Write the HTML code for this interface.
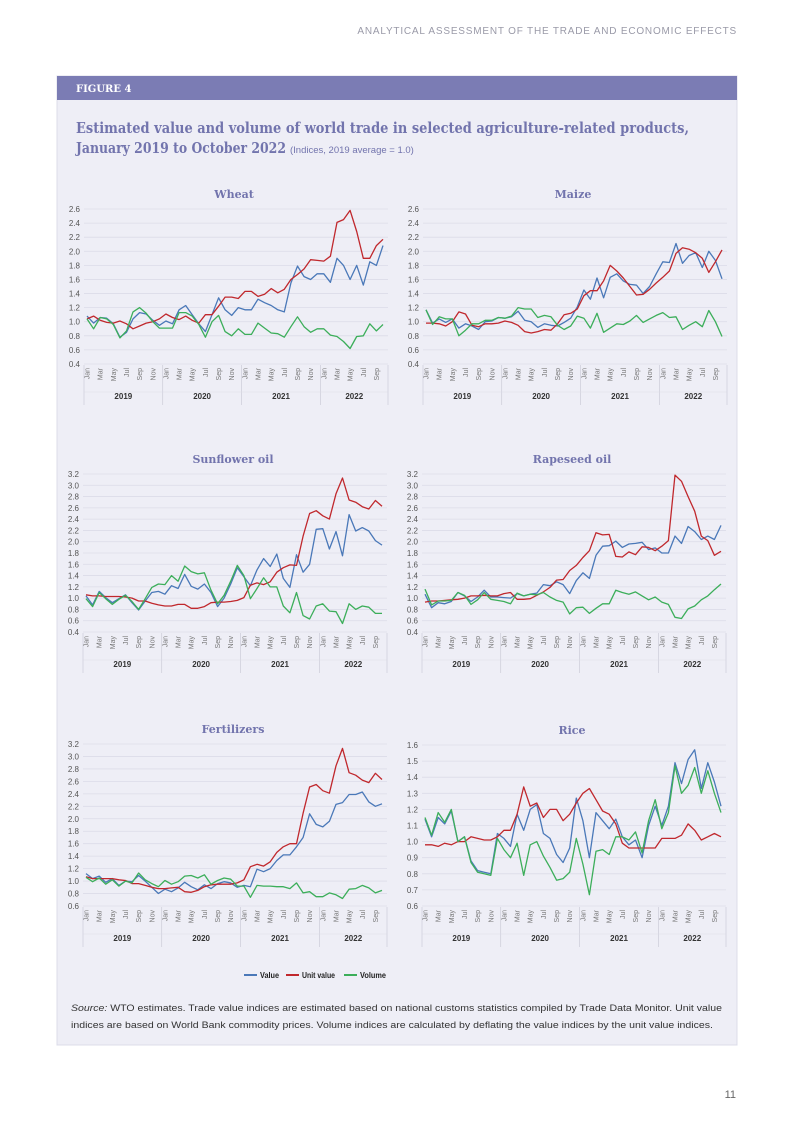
<!DOCTYPE html>
<html><head><meta charset="utf-8"><style>
body{margin:0;background:#fff;}
svg{display:block;font-family:"Liberation Sans",sans-serif;}
</style></head><body>
<svg id="pg" width="793" height="1122" viewBox="0 0 793 1122" xmlns="http://www.w3.org/2000/svg">
<text x="737" y="34" text-anchor="end" font-size="10" fill="#9a9aa8" letter-spacing="0.8">ANALYTICAL ASSESSMENT OF THE TRADE AND ECONOMIC EFFECTS</text>
<rect x="57" y="76" width="680" height="969" fill="#eeeef6" stroke="#dcdce8"/>
<rect x="57" y="76" width="680" height="24" fill="#7b7cb4"/>
<text x="76" y="92" font-family="'DejaVu Serif',serif" font-weight="bold" font-size="10" fill="#fff">FIGURE 4</text>
<text x="76" y="133" font-family="'DejaVu Serif',serif" font-weight="bold" font-size="14.5" fill="#7274ad" textLength="613" lengthAdjust="spacingAndGlyphs">Estimated value and volume of world trade in selected agriculture-related products,</text>
<text x="76" y="153" font-family="'DejaVu Serif',serif" font-weight="bold" font-size="14.5" fill="#7274ad"><tspan textLength="210" lengthAdjust="spacingAndGlyphs">January 2019 to October 2022</tspan><tspan font-family="'Liberation Sans',sans-serif" font-weight="normal" font-size="9.5" dx="4">(Indices, 2019 average = 1.0)</tspan></text>
<g id="charts"></g>
<g>
<line x1="244" y1="975" x2="257" y2="975" stroke="#4a78b8" stroke-width="2"/>
<text x="260" y="978" font-size="8" font-weight="bold" fill="#222" textLength="19" lengthAdjust="spacingAndGlyphs">Value</text>
<line x1="286" y1="975" x2="299" y2="975" stroke="#c0282d" stroke-width="2"/>
<text x="302" y="978" font-size="8" font-weight="bold" fill="#222" textLength="33" lengthAdjust="spacingAndGlyphs">Unit value</text>
<line x1="344" y1="975" x2="357" y2="975" stroke="#3cae5a" stroke-width="2"/>
<text x="360" y="978" font-size="8" font-weight="bold" fill="#222" textLength="26" lengthAdjust="spacingAndGlyphs">Volume</text>
</g>
<text x="71" y="1011" font-size="9.6" fill="#333" textLength="651" lengthAdjust="spacingAndGlyphs"><tspan font-style="italic">Source:</tspan> WTO estimates. Trade value indices are estimated based on national customs statistics compiled by Trade Data Monitor. Unit value</text>
<text x="71" y="1028" font-size="9.6" fill="#333" textLength="642" lengthAdjust="spacingAndGlyphs">indices are based on World Bank commodity prices. Volume indices are calculated by deflating the value indices by the unit value indices.</text>
<text x="736" y="1098" text-anchor="end" font-size="11" fill="#666">11</text>
</svg>
<script>
const months=["Jan","Mar","May","Jul","Sep","Nov"];
const years=["2019","2020","2021","2022"];
const wheatValue=[1.08,0.98,1.06,1.05,0.97,0.78,0.85,1.04,1.13,1.11,1.02,0.95,1.01,0.97,1.17,1.23,1.1,0.97,0.86,1.1,1.34,1.17,1.09,1.2,1.17,1.17,1.32,1.27,1.23,1.17,1.14,1.55,1.79,1.64,1.6,1.68,1.68,1.56,1.9,1.8,1.6,1.8,1.52,1.85,1.8,2.08];
const wheatUnit=[1.04,1.08,1.02,0.99,0.98,1.01,0.97,0.9,0.94,0.98,1.0,1.04,1.11,1.06,1.03,1.08,1.02,0.98,1.1,1.1,1.22,1.35,1.35,1.33,1.43,1.43,1.36,1.39,1.47,1.41,1.46,1.6,1.67,1.75,1.88,1.87,1.86,1.93,2.41,2.45,2.58,2.28,1.9,1.9,2.08,2.17];
const wheatVolume=[1.04,0.9,1.06,1.04,0.96,0.77,0.87,1.14,1.2,1.12,1.0,0.91,0.91,0.91,1.13,1.13,1.08,0.96,0.78,1.0,1.09,0.86,0.8,0.9,0.82,0.82,0.98,0.91,0.84,0.83,0.78,0.93,1.07,0.93,0.85,0.9,0.9,0.81,0.79,0.72,0.62,0.79,0.8,0.97,0.87,0.96];
const maizeValue=[1.17,0.98,1.04,0.99,1.04,0.91,0.97,0.94,0.89,1.0,1.01,1.06,1.05,1.07,1.15,1.02,1.0,0.92,0.97,0.95,0.94,0.99,1.05,1.21,1.45,1.32,1.62,1.34,1.63,1.68,1.58,1.53,1.52,1.4,1.5,1.68,1.85,1.84,2.11,1.83,1.94,1.98,1.77,2.0,1.87,1.61];
const maizeUnit=[0.98,0.98,0.97,0.94,1.0,1.14,1.11,0.95,0.93,0.97,0.97,0.98,1.01,0.99,0.95,0.86,0.84,0.86,0.89,0.88,0.97,1.1,1.12,1.18,1.37,1.44,1.44,1.58,1.8,1.72,1.62,1.5,1.38,1.39,1.46,1.55,1.63,1.72,1.97,2.05,2.03,1.98,1.9,1.7,1.85,2.02];
const maizeVolume=[1.17,0.96,1.07,1.04,1.04,0.8,0.88,0.97,0.97,1.02,1.02,1.06,1.05,1.08,1.2,1.18,1.18,1.06,1.09,1.07,0.95,0.89,0.94,1.08,1.05,0.91,1.12,0.85,0.91,0.97,0.96,1.01,1.09,0.99,1.04,1.09,1.13,1.06,1.07,0.89,0.95,1.0,0.93,1.16,1.0,0.79];
const sunValue=[1.04,0.88,1.12,1.01,0.92,0.99,1.06,0.92,0.79,0.95,1.1,1.12,1.07,1.22,1.17,1.42,1.21,1.16,1.25,1.1,0.85,1.0,1.25,1.54,1.38,1.22,1.5,1.7,1.56,1.78,1.35,1.19,1.77,1.46,1.6,2.22,2.23,1.87,2.18,1.75,2.48,2.19,2.25,2.19,2.02,1.94];
const sunUnit=[1.06,1.04,1.04,1.03,1.03,1.03,1.02,1.0,0.95,0.95,0.91,0.88,0.86,0.86,0.89,0.89,0.82,0.82,0.85,0.92,0.93,0.93,0.94,0.96,1.01,1.23,1.27,1.24,1.29,1.46,1.54,1.59,1.58,2.1,2.5,2.55,2.46,2.4,2.85,3.13,2.74,2.7,2.62,2.58,2.73,2.63];
const sunVolume=[0.99,0.85,1.1,0.99,0.89,0.98,1.05,0.94,0.8,0.99,1.19,1.25,1.24,1.4,1.3,1.57,1.47,1.43,1.45,1.14,0.9,1.05,1.3,1.58,1.4,0.99,1.17,1.36,1.2,1.2,0.86,0.74,1.1,0.69,0.63,0.86,0.9,0.77,0.76,0.55,0.9,0.8,0.86,0.84,0.73,0.73];
const rapeValue=[1.07,0.83,0.92,0.9,0.94,1.1,1.04,0.94,1.02,1.14,1.02,1.02,1.01,1.0,1.08,1.04,1.07,1.09,1.24,1.22,1.29,1.24,1.08,1.31,1.45,1.35,1.76,1.92,1.93,2.01,1.9,1.96,1.97,1.99,1.86,1.89,1.8,1.8,2.1,1.97,2.27,2.18,2.04,2.1,2.04,2.29];
const rapeUnit=[0.93,0.95,0.95,0.96,0.97,0.98,1.0,1.04,1.04,1.05,1.04,1.04,1.08,1.1,0.98,0.98,0.99,1.05,1.11,1.19,1.32,1.33,1.49,1.58,1.72,1.84,2.16,2.12,2.13,1.74,1.73,1.82,1.77,1.91,1.9,1.84,1.92,2.02,3.18,3.07,2.8,2.54,2.1,2.02,1.76,1.83];
const rapeVolume=[1.16,0.88,0.95,0.95,0.96,1.1,1.05,0.89,0.97,1.1,0.98,0.96,0.94,0.9,1.09,1.04,1.07,1.06,1.1,1.02,0.96,0.93,0.72,0.83,0.84,0.73,0.82,0.9,0.9,1.14,1.1,1.07,1.11,1.04,0.97,1.02,0.93,0.89,0.66,0.64,0.81,0.86,0.97,1.04,1.15,1.25];
const fertValue=[1.12,1.04,1.08,0.98,1.04,0.93,1.0,0.99,1.09,1.0,0.9,0.8,0.87,0.83,0.89,0.98,0.91,0.86,0.94,0.88,0.96,0.99,0.97,0.9,0.93,0.91,1.19,1.15,1.2,1.33,1.42,1.42,1.55,1.7,2.08,1.91,1.87,1.96,2.23,2.26,2.39,2.39,2.43,2.27,2.2,2.24];
const fertUnit=[1.07,1.04,1.04,1.04,1.04,1.02,1.01,0.96,0.96,0.93,0.9,0.88,0.88,0.89,0.9,0.83,0.82,0.85,0.91,0.94,0.95,0.95,0.95,0.97,1.02,1.23,1.27,1.24,1.31,1.46,1.55,1.6,1.6,2.09,2.51,2.55,2.45,2.41,2.85,3.13,2.74,2.7,2.62,2.58,2.73,2.63];
const fertVolume=[1.06,0.99,1.05,0.95,1.02,0.92,1.0,0.97,1.13,1.02,0.96,0.91,1.01,0.95,0.99,1.08,1.09,1.05,1.1,0.95,1.01,1.05,1.03,0.92,0.92,0.74,0.93,0.92,0.92,0.91,0.91,0.88,0.97,0.81,0.83,0.75,0.75,0.81,0.78,0.72,0.87,0.88,0.93,0.89,0.81,0.85];
const riceValue=[1.14,1.03,1.15,1.11,1.19,1.0,1.03,0.88,0.82,0.81,0.8,1.05,1.02,0.97,1.17,1.07,1.2,1.23,1.05,1.02,0.92,0.87,0.96,1.27,1.13,0.9,1.18,1.13,1.08,1.14,1.03,0.98,1.01,0.9,1.1,1.22,1.1,1.22,1.49,1.36,1.51,1.57,1.33,1.49,1.37,1.22];
const riceUnit=[0.98,0.98,0.97,0.99,0.98,1.0,1.0,1.03,1.02,1.01,1.01,1.03,1.07,1.07,1.17,1.34,1.22,1.24,1.15,1.2,1.2,1.13,1.17,1.24,1.3,1.33,1.26,1.19,1.17,1.11,0.99,0.96,0.96,0.96,0.96,0.96,1.02,1.02,1.02,1.04,1.11,1.07,1.01,1.03,1.05,1.03];
const riceVolume=[1.15,1.04,1.18,1.12,1.2,1.0,1.03,0.87,0.81,0.8,0.79,1.02,0.95,0.9,0.99,0.79,0.98,1.0,0.91,0.84,0.76,0.77,0.81,1.02,0.86,0.67,0.94,0.95,0.92,1.03,1.03,1.01,1.06,0.93,1.13,1.26,1.08,1.18,1.47,1.3,1.35,1.46,1.3,1.44,1.3,1.18];
const ticksA=[0.4,0.6,0.8,1.0,1.2,1.4,1.6,1.8,2.0,2.2,2.4,2.6];
const ticksB=[0.4,0.6,0.8,1.0,1.2,1.4,1.6,1.8,2.0,2.2,2.4,2.6,2.8,3.0,3.2];
const ticksC=[0.6,0.8,1.0,1.2,1.4,1.6,1.8,2.0,2.2,2.4,2.6,2.8,3.0,3.2];
const ticksD=[0.6,0.7,0.8,0.9,1.0,1.1,1.2,1.3,1.4,1.5,1.6];

const NS="http://www.w3.org/2000/svg";
const root=document.getElementById('charts');
function mk(tag,attrs,parent){const e=document.createElementNS(NS,tag);for(const k in attrs)e.setAttribute(k,attrs[k]);parent.appendChild(e);return e;}
const COLORS={value:"#4a78b8",unit:"#c0282d",volume:"#3cae5a"};
function chart(name,title,ox,top,bottom,ticks,dec,value,unit,volume){
  const g=mk('g',{},root);
  
  
  const x0=ox+28,x1=ox+324,left=ox+25,right=ox+329;
  const lo=ticks[0],hi=ticks[ticks.length-1];
  const y=v=>bottom-(v-lo)/(hi-lo)*(bottom-top);
  const n=46;
  const x=i=>x0+i*(x1-x0)/(n-1);
  const t=mk('text',{x:ox+175,y:top-11,'text-anchor':'middle','font-family':"'DejaVu Serif',serif",'font-weight':'bold','font-size':'11',fill:'#7274ad'},g);
  t.textContent=title;
  
  
  ticks.forEach(v=>{
    const l=mk('line',{x1:left,x2:right,y1:y(v),y2:y(v),stroke:'#dcdce8','stroke-width':'0.8'},g);
    
    
    const tx=mk('text',{x:ox+21,y:y(v)+3,'text-anchor':'end','font-size':'8',fill:'#555'},g);
    tx.textContent=v.toFixed(dec);
    
    
  });
  for(let i=0;i<n;i+=2){
    const lab=mk('text',{transform:`translate(${x(i)+2.5},${bottom+4}) rotate(-90)`,'text-anchor':'end','font-size':'7',fill:'#777'},g);
    lab.textContent=months[(i/2)%6];
    
    
  }
  const yb=bottom+35;
  const sep=[left];
  for(let k=1;k<4;k++)sep.push((x(12*k-1)+x(12*k))/2);
  sep.push(right);
  sep.forEach(s=>{const l=mk('line',{x1:s,x2:s,y1:bottom+1,y2:yb+6,stroke:'#d0d0dc','stroke-width':'0.8'},g);
    
    });
  mk('line',{x1:left,x2:right,y1:bottom+28,y2:bottom+28,stroke:'#dcdce8','stroke-width':'0.6'},g);
  years.forEach((yr,k)=>{
    const tx=mk('text',{x:(sep[k]+sep[k+1])/2,y:yb,'text-anchor':'middle','font-size':'8','font-weight':'bold',fill:'#333'},g);
    tx.textContent=yr;
    
    
  });
  [['value',value],['unit',unit],['volume',volume]].forEach(([k,arr])=>{
    const p=mk('polyline',{points:arr.map((v,i)=>x(i).toFixed(1)+','+y(v).toFixed(1)).join(' '),fill:'none',stroke:COLORS[k],'stroke-width':'1.3','stroke-linejoin':'round'},g);
    
    
  });
}
chart('wheat','Wheat',59,209,364,ticksA,1,wheatValue,wheatUnit,wheatVolume);
chart('maize','Maize',398,209,364,ticksA,1,maizeValue,maizeUnit,maizeVolume);
chart('sunflower-oil','Sunflower oil',58,474,632,ticksB,1,sunValue,sunUnit,sunVolume);
chart('rapeseed-oil','Rapeseed oil',397,474,632,ticksB,1,rapeValue,rapeUnit,rapeVolume);
chart('fertilizers','Fertilizers',58,744,906,ticksC,1,fertValue,fertUnit,fertVolume);
chart('rice','Rice',397,745,906,ticksD,1,riceValue,riceUnit,riceVolume);
</script>
</body></html>
